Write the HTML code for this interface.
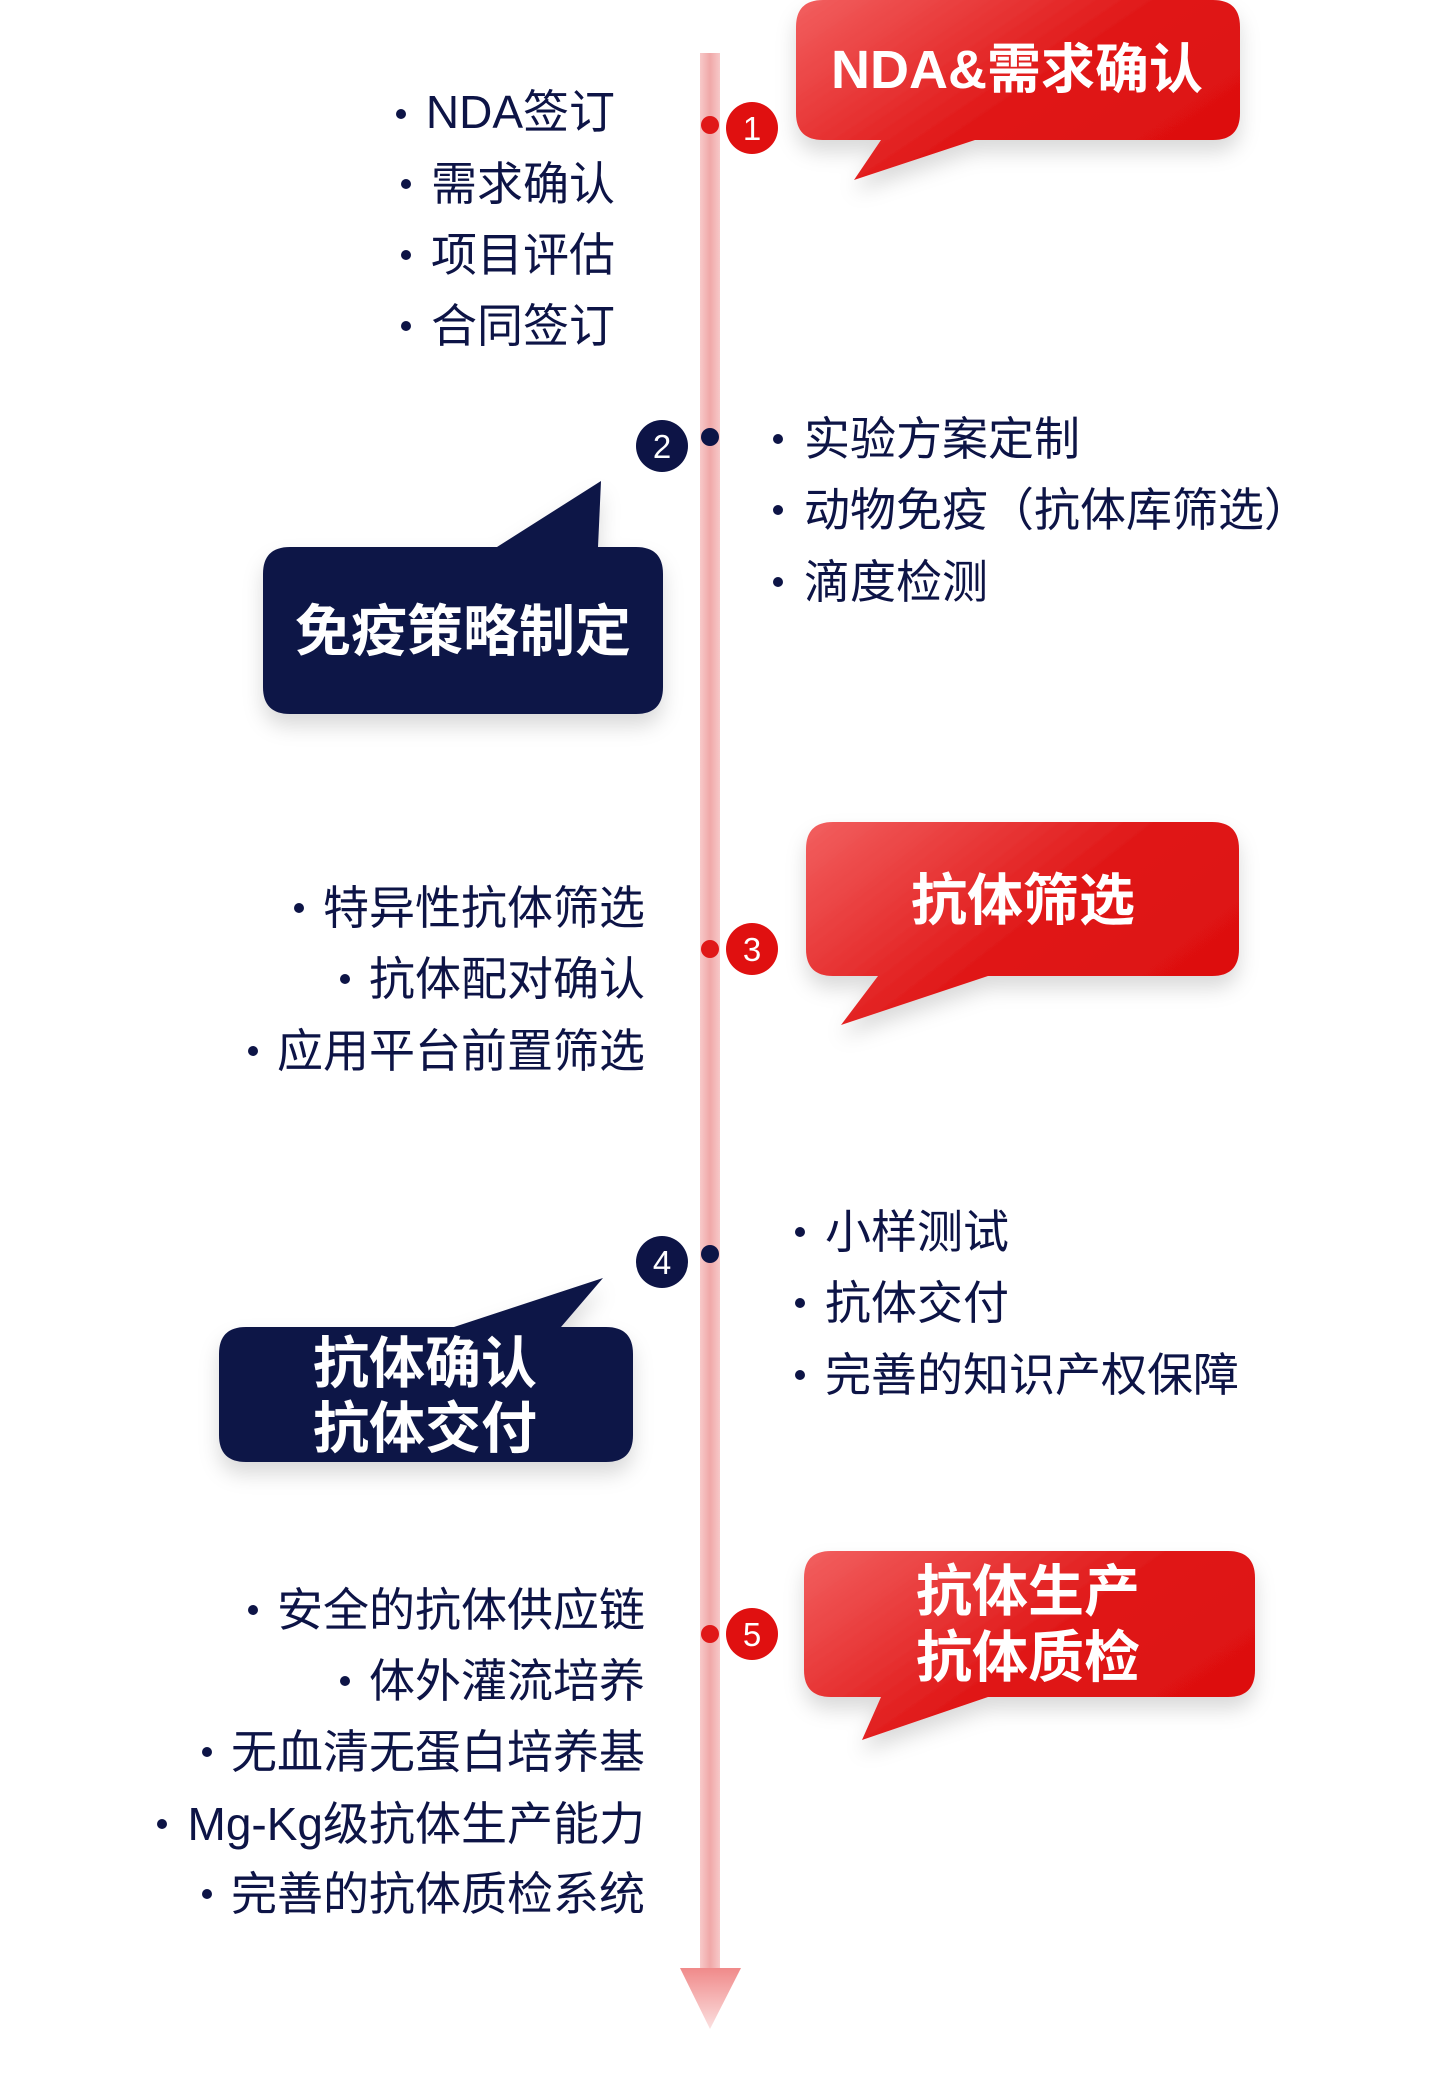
<!DOCTYPE html>
<html><head><meta charset="utf-8"><style>
html,body{margin:0;padding:0;background:#fff;}
svg{display:block;}
text{font-family:"Liberation Sans","Noto Sans CJK SC",sans-serif;}
.li{font-size:46px;fill:#0d1446;}
.bt{font-size:56px;font-weight:bold;fill:#fff;}
.num{font-size:33px;fill:#fff;}
</style></head><body>
<svg width="1442" height="2097" viewBox="0 0 1442 2097" xmlns="http://www.w3.org/2000/svg">
<defs>
<linearGradient id="red" x1="0" y1="0" x2="1" y2="0.6">
<stop offset="0" stop-color="#f26060"/><stop offset="0.6" stop-color="#e01818"/><stop offset="1" stop-color="#dd1010"/></linearGradient>
<linearGradient id="line" x1="0" y1="0" x2="1" y2="0">
<stop offset="0" stop-color="#f7c9c9"/><stop offset="0.5" stop-color="#f0a8a8"/><stop offset="1" stop-color="#f7c9c9"/></linearGradient>
<linearGradient id="arr" x1="0" y1="0" x2="0" y2="1">
<stop offset="0" stop-color="#f08a8a"/><stop offset="1" stop-color="#fbe0e0"/></linearGradient>
<filter id="sh" x="-20%" y="-20%" width="140%" height="160%"><feDropShadow dx="0" dy="12" stdDeviation="10" flood-color="#000" flood-opacity="0.15"/></filter>
</defs>
<rect x="700" y="53" width="20" height="1918" fill="url(#line)"/>
<polygon points="680,1968 741,1968 710,2029" fill="url(#arr)"/>
<circle cx="710" cy="125" r="9" fill="#e01818"/>
<circle cx="710" cy="437" r="9" fill="#0d1446"/>
<circle cx="710" cy="949" r="9" fill="#e01818"/>
<circle cx="710" cy="1254" r="9" fill="#0d1446"/>
<circle cx="710" cy="1634" r="9" fill="#e01818"/>
<g><circle cx="752" cy="128" r="26" fill="#e01010"/><text class="num" x="752" y="140" text-anchor="middle">1</text></g>
<g><circle cx="662" cy="446" r="26" fill="#0d1446"/><text class="num" x="662" y="458" text-anchor="middle">2</text></g>
<g><circle cx="752" cy="949" r="26" fill="#e01010"/><text class="num" x="752" y="961" text-anchor="middle">3</text></g>
<g><circle cx="662" cy="1262" r="26" fill="#0d1446"/><text class="num" x="662" y="1274" text-anchor="middle">4</text></g>
<g><circle cx="752" cy="1634" r="26" fill="#e01010"/><text class="num" x="752" y="1646" text-anchor="middle">5</text></g>
<g filter="url(#sh)">
<path d="M823,0 H1213 Q1240,0 1240,27 V113 Q1240,140 1213,140 H975 L854,180 L881,140 H823 Q796,140 796,113 V27 Q796,0 823,0 Z" fill="url(#red)"/>
</g>
<text class="bt" x="1017" y="88" text-anchor="middle" style="font-size:54px">NDA&amp;需求确认</text>
<g class="li" text-anchor="end">
<text x="615" y="128">NDA签订</text><text x="615" y="200">需求确认</text><text x="615" y="271">项目评估</text><text x="615" y="342">合同签订</text>
</g>
<g fill="#0d1446"><circle cx="401" cy="114" r="5"/><circle cx="406" cy="184" r="5"/><circle cx="406" cy="255" r="5"/><circle cx="406" cy="326" r="5"/></g>
<g filter="url(#sh)">
<path d="M290,547 H497 L601,481 L598,547 H636 Q663,547 663,574 V687 Q663,714 636,714 H290 Q263,714 263,687 V574 Q263,547 290,547 Z" fill="#0d1446"/>
</g>
<text class="bt" x="463" y="651" text-anchor="middle">免疫策略制定</text>
<g class="li">
<text x="804" y="455">实验方案定制</text><text x="804" y="526">动物免疫（抗体库筛选）</text><text x="804" y="598">滴度检测</text>
</g>
<g fill="#0d1446"><circle cx="778" cy="439" r="5"/><circle cx="778" cy="510" r="5"/><circle cx="778" cy="582" r="5"/></g>
<g filter="url(#sh)">
<path d="M833,822 H1212 Q1239,822 1239,849 V949 Q1239,976 1212,976 H988 L841,1025 L878,976 H833 Q806,976 806,949 V849 Q806,822 833,822 Z" fill="url(#red)"/>
</g>
<text class="bt" x="1023" y="920" text-anchor="middle">抗体筛选</text>
<g class="li" text-anchor="end">
<text x="645" y="924">特异性抗体筛选</text><text x="645" y="995">抗体配对确认</text><text x="645" y="1067">应用平台前置筛选</text>
</g>
<g fill="#0d1446"><circle cx="299" cy="908" r="5"/><circle cx="345" cy="979" r="5"/><circle cx="253" cy="1051" r="5"/></g>
<g class="li">
<text x="825" y="1248">小样测试</text><text x="825" y="1319">抗体交付</text><text x="825" y="1391">完善的知识产权保障</text>
</g>
<g fill="#0d1446"><circle cx="800" cy="1232" r="5"/><circle cx="800" cy="1303" r="5"/><circle cx="800" cy="1375" r="5"/></g>
<g filter="url(#sh)">
<path d="M246,1327 H454 L603,1278 L561,1327 H606 Q633,1327 633,1354 V1435 Q633,1462 606,1462 H246 Q219,1462 219,1435 V1354 Q219,1327 246,1327 Z" fill="#0d1446"/>
</g>
<text class="bt" x="425" y="1383" text-anchor="middle">抗体确认</text>
<text class="bt" x="425" y="1448" text-anchor="middle">抗体交付</text>
<g filter="url(#sh)">
<path d="M831,1551 H1228 Q1255,1551 1255,1578 V1670 Q1255,1697 1228,1697 H988 L862,1740 L881,1697 H831 Q804,1697 804,1670 V1578 Q804,1551 831,1551 Z" fill="url(#red)"/>
</g>
<text class="bt" x="1028" y="1611" text-anchor="middle">抗体生产</text>
<text class="bt" x="1028" y="1677" text-anchor="middle">抗体质检</text>
<g class="li" text-anchor="end">
<text x="645" y="1626">安全的抗体供应链</text><text x="645" y="1697">体外灌流培养</text><text x="645" y="1768">无血清无蛋白培养基</text><text x="645" y="1840">Mg-Kg级抗体生产能力</text><text x="645" y="1910">完善的抗体质检系统</text>
</g>
<g fill="#0d1446"><circle cx="253" cy="1610" r="5"/><circle cx="345" cy="1681" r="5"/><circle cx="207" cy="1752" r="5"/><circle cx="162" cy="1824" r="5"/><circle cx="207" cy="1894" r="5"/></g>
</svg>
</body></html>
